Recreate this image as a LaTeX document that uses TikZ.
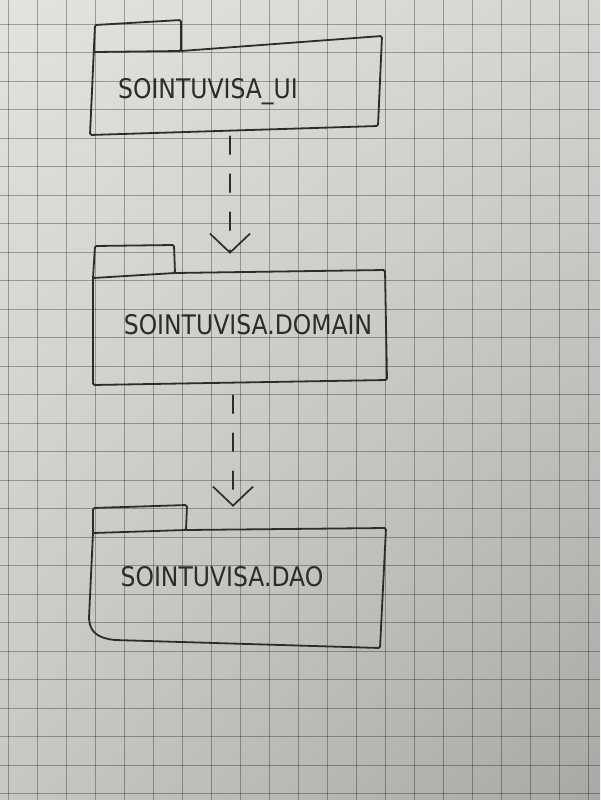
\documentclass[tikz,border=0pt]{standalone}
\usepackage{fontspec}
\newfontfamily\hand[FakeStretch=0.87]{DejaVu Sans}
\usetikzlibrary{arrows.meta,shadings}
\definecolor{ink}{HTML}{2C2C2C}
\definecolor{paperA}{HTML}{E3E2DF}
\definecolor{paperB}{HTML}{D6D5D2}
\definecolor{paperC}{HTML}{C8C7C4}
\definecolor{paperD}{HTML}{A9A8A5}
\begin{document}
\begin{tikzpicture}[x=1pt,y=-1pt,
  outline/.style={draw=ink, line width=1.8pt, line join=round, line cap=round, rounded corners=1.5pt},
  lbl/.style={font=\hand\fontsize{27}{30}\selectfont, text=ink, inner sep=0pt},
  body/.style={draw=none, inner sep=0pt, minimum width=#1},
  gridline/.style={draw=black, opacity=0.3, line width=0.9pt},
  dep/.style={draw=ink, line width=1.7pt, line cap=round, dash pattern=on 18pt off 20pt,
    -{Straight Barb[length=19pt,width=40pt,line width=1.7pt]}}
]
% paper
\useasboundingbox (0,0) rectangle (600,800);
\shade[upper left=paperA, upper right=paperB, lower left=paperC, lower right=paperD] (0,0) rectangle (600,800);
\foreach \i in {0,...,20} \draw[gridline] ({8+29*\i},0) -- ({8+29*\i},800);
\foreach \j in {0,...,28} \draw[gridline] (0,{-4.5+28.5*\j}) -- (600,{-4.5+28.5*\j});

% package bodies (invisible anchors)
\node[body=292pt, minimum height=100pt] (ui) at (236,85) {};
\node[body=294pt, minimum height=139pt] (dom) at (240,315.5) {};
\node[body=297pt, minimum height=143pt] (dao) at (237.5,576.5) {};

% UI package outline
\draw[outline] (95,52) -- (181,51) -- (181,20) -- (95,25) -- (90,135) -- (378,126) -- (382,36) -- (181,51);
\node[lbl] (uil) at (208,92) {SOINTUVISA\_UI};

% DOMAIN package outline
\draw[outline] (93,278) -- (175,273) -- (174,245) -- (95,246) -- (93,278) -- (93,385) -- (387,380) -- (385,270) -- (175,273);
\node[lbl] (doml) at (248,325) {SOINTUVISA.DOMAIN};

% DAO package outline
\draw[outline] (93,533) -- (186,530) -- (187,505) -- (93,508) -- (93,533) -- (89,618) .. controls (90,632) and (98,638) .. (115,640) -- (380,648) -- (386,528) -- (186,530);
\node[lbl] (daol) at (222,577) {SOINTUVISA.DAO};

% dependencies
\draw[dep] ([xshift=-6pt,yshift=-1pt]ui.south) -- ([xshift=-6pt,yshift=-8pt]ui.south |- dom.north);
\draw[dep] ([xshift=-7pt,yshift=-10pt]dom.south) -- ([xshift=-7pt,yshift=-2pt]dom.south |- dao.north);
\end{tikzpicture}
\end{document}
